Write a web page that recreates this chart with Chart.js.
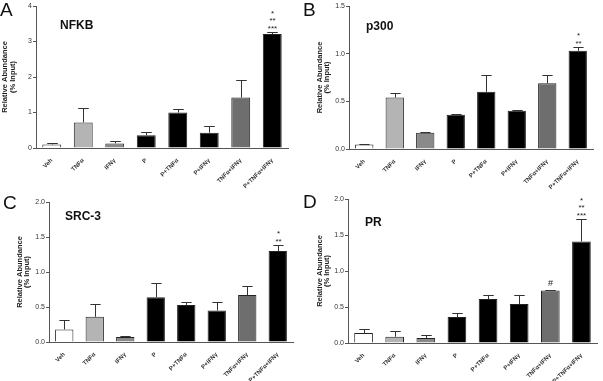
<!DOCTYPE html>
<html>
<head>
<meta charset="utf-8">
<script src="https://cdn.jsdelivr.net/npm/chart.js@4.4.0/dist/chart.umd.min.js"></script>
<style>
  body { margin: 0; background: #fff; }
  #wrap { position: relative; width: 603px; height: 381px; }
  #wrap canvas { position: absolute; }
</style>
</head>
<body>
<div id="wrap">
  <canvas id="panelA" width="300" height="190" style="left:0;top:0"></canvas>
  <canvas id="panelB" width="303" height="190" style="left:300px;top:0"></canvas>
  <canvas id="panelC" width="300" height="191" style="left:0;top:190px"></canvas>
  <canvas id="panelD" width="303" height="191" style="left:300px;top:190px"></canvas>
</div>
<script>
const categories = ['Veh', 'TNFα', 'IFNγ', 'P', 'P+TNFα', 'P+IFNγ', 'TNFα+IFNγ', 'P+TNFα+IFNγ'];

// mean and upper error (SEM)
const nfkbMean = [0.10, 0.72, 0.13, 0.36, 1.00, 0.43, 1.42, 3.21];
const nfkbErr  = [0.05, 0.42, 0.08, 0.10, 0.09, 0.20, 0.49, 0.07];
const p300Mean = [0.046, 0.54, 0.17, 0.36, 0.60, 0.40, 0.69, 1.03];
const p300Err  = [0.008, 0.05, 0.012, 0.01, 0.18, 0.005, 0.09, 0.04];
const src3Mean = [0.18, 0.36, 0.07, 0.64, 0.53, 0.45, 0.67, 1.30];
const src3Err  = [0.13, 0.19, 0.015, 0.20, 0.04, 0.12, 0.13, 0.08];
const prMean   = [0.14, 0.087, 0.07, 0.36, 0.61, 0.54, 0.73, 1.41];
const prErr    = [0.05, 0.08, 0.035, 0.05, 0.06, 0.12, 0.01, 0.31];

// significance marks above bars
const nfkbMarks = { 7: ['*', '**', '***'] };
const p300Marks = { 7: ['*', '**'] };
const src3Marks = { 7: ['*', '**'] };
const prMarks   = { 7: ['*', '**', '***'], 6: ['#'] };

const barColors = ['#ffffff', '#b4b4b4', '#8a8a8a', '#000000', '#000000', '#000000', '#6e6e6e', '#000000'];

const FONT = "'Liberation Sans', Arial, sans-serif";

// error bars, marks, panel letter and title
const panelPlugin = {
  id: 'panel',
  afterDatasetsDraw(chart) {
    const p = chart.options.plugins.panel;
    const ctx = chart.ctx;
    const meta = chart.getDatasetMeta(0);
    const y = chart.scales.y;
    ctx.save();
    ctx.strokeStyle = '#333';
    ctx.lineWidth = 1;
    meta.data.forEach((bar, i) => {
      const x = Math.round(bar.x) + 0.5;
      const top = y.getPixelForValue(p.mean[i]);
      const capY = Math.round(y.getPixelForValue(p.mean[i] + p.err[i])) + 0.5;
      const half = bar.width * 0.28;
      ctx.beginPath();
      ctx.moveTo(x, top);
      ctx.lineTo(x, capY);
      ctx.moveTo(x - half, capY);
      ctx.lineTo(x + half, capY);
      ctx.stroke();
      const marks = p.marks[i];
      if (marks) {
        ctx.fillStyle = '#222';
        ctx.textAlign = 'center';
        ctx.textBaseline = 'alphabetic';
        const n = marks.length;
        marks.forEach((m, k) => {
          if (m === '#') {
            ctx.font = '9px ' + FONT;
            ctx.fillText(m, x, capY - 5);
          } else {
            ctx.font = '8px ' + FONT;
            ctx.fillText(m, x, capY - 2 - (n - 1 - k) * 7.5);
          }
        });
      }
    });
    ctx.restore();
  },
  afterDraw(chart) {
    const p = chart.options.plugins.panel;
    const ctx = chart.ctx;
    ctx.save();
    ctx.fillStyle = '#111';
    ctx.textAlign = 'left';
    ctx.textBaseline = 'alphabetic';
    ctx.font = '19px ' + FONT;
    ctx.fillText(p.letter, p.letterPos[0], p.letterPos[1]);
    ctx.font = 'bold 12px ' + FONT;
    ctx.textBaseline = 'middle';
    ctx.fillText(p.title, p.titlePos[0], p.titlePos[1]);
    ctx.restore();
  }
};

const makePanel = (id, cfg) => {
  new Chart(document.getElementById(id), {
    type: 'bar',
    data: {
      labels: categories,
      datasets: [{
        data: cfg.mean,
        backgroundColor: barColors,
        borderColor: '#222',
        borderWidth: 1,
        barPercentage: 0.6,
        categoryPercentage: 1.0
      }]
    },
    options: {
      responsive: false,
      animation: false,
      devicePixelRatio: 1,
      layout: { padding: cfg.padding },
      plugins: {
        legend: { display: false },
        tooltip: { enabled: false },
        panel: cfg
      },
      scales: {
        x: {
          afterFit: (scale) => { scale.height = cfg.xHeight; },
          grid: { display: false },
          border: { display: true, color: '#555', width: 1 },
          ticks: {
            autoSkip: false,
            maxRotation: 45,
            minRotation: 45,
            padding: 1,
            color: '#333',
            font: { family: FONT, size: 6, weight: 'bold' }
          }
        },
        y: {
          min: 0,
          max: cfg.max,
          afterFit: (scale) => { scale.width = cfg.yWidth; },
          grid: { display: true, drawOnChartArea: false, drawTicks: true, tickLength: 3, color: '#555' },
          border: { display: true, color: '#555', width: 1 },
          ticks: {
            stepSize: cfg.step,
            padding: 1,
            color: '#333',
            font: { family: FONT, size: 7 },
            callback: (v) => cfg.step >= 1 ? String(v) : v.toFixed(1)
          },
          title: {
            display: true,
            text: ['Relative Abundance', '(% Input)'],
            color: '#222',
            padding: { top: cfg.titlePad, bottom: 0 },
            font: { family: FONT, size: 7.5, weight: 'bold', lineHeight: 1.0 }
          }
        }
      }
    },
    plugins: [panelPlugin]
  });
};

makePanel('panelA', {
  mean: nfkbMean, err: nfkbErr, marks: nfkbMarks, max: 4, step: 1,
  letter: 'A', letterPos: [0, 16], title: 'NFKB', titlePos: [60, 26],
  padding: { left: 0, right: 12, top: 6, bottom: 0 }, yWidth: 36, xHeight: 42, titlePad: 1.5
});
makePanel('panelB', {
  mean: p300Mean, err: p300Err, marks: p300Marks, max: 1.5, step: 0.5,
  letter: 'B', letterPos: [3, 16], title: 'p300', titlePos: [66, 27],
  padding: { left: 0, right: 10, top: 6, bottom: 0 }, yWidth: 49, xHeight: 41, titlePad: 16
});
makePanel('panelC', {
  mean: src3Mean, err: src3Err, marks: src3Marks, max: 2, step: 0.5,
  letter: 'C', letterPos: [3, 19], title: 'SRC-3', titlePos: [65, 27],
  padding: { left: 0, right: 7, top: 12, bottom: 0 }, yWidth: 49, xHeight: 39, titlePad: 16
});
makePanel('panelD', {
  mean: prMean, err: prErr, marks: prMarks, max: 2, step: 0.5,
  letter: 'D', letterPos: [3, 18], title: 'PR', titlePos: [65, 33],
  padding: { left: 0, right: 6, top: 9, bottom: 0 }, yWidth: 48, xHeight: 38, titlePad: 16
});
</script>
</body>
</html>
